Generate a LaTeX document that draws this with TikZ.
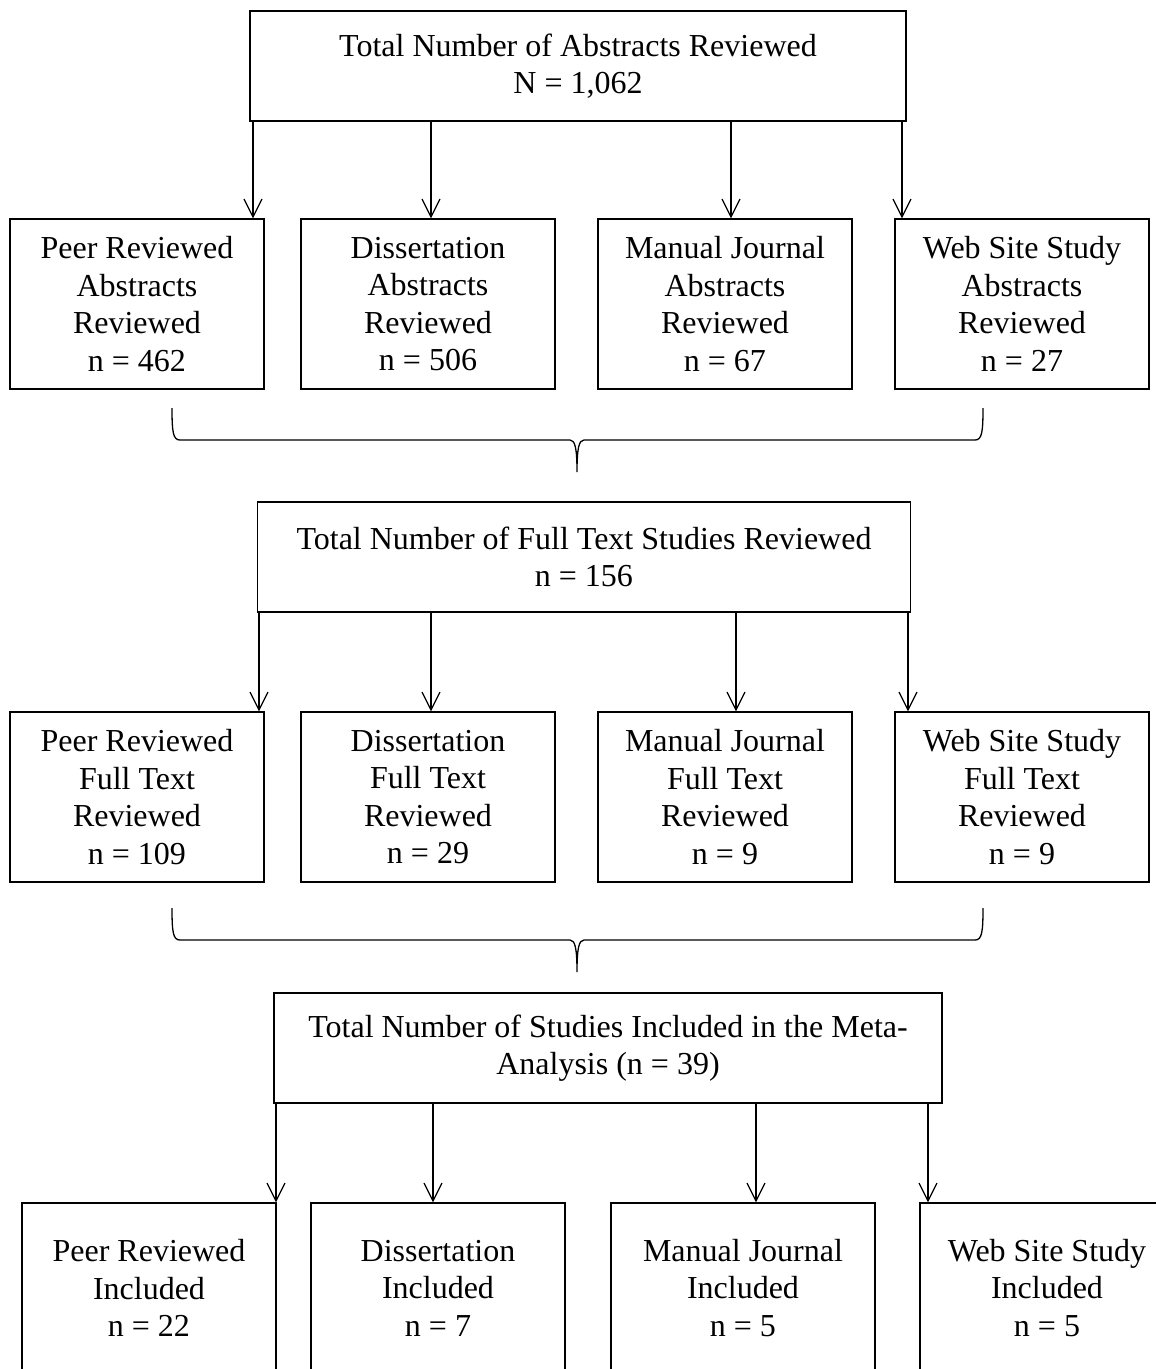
\documentclass[tikz,border=0pt]{standalone}
\usepackage{fontspec}
\setmainfont{Liberation Serif}
\usetikzlibrary{arrows.meta}
\tikzset{
  box/.style={draw, line width=1.3pt, inner sep=0pt, align=center,
    minimum width=254pt, minimum height=170pt,
    font=\fontsize{32}{37.5}\selectfont},
  bigbox/.style={box, minimum height=110pt},
  arr/.style={line width=1.2pt, -{Straight Barb[length=18pt,width=18pt,line width=1.2pt]}},
  brace/.style={line width=1.3pt}
}
\begin{document}
\begin{tikzpicture}[x=1pt,y=-1pt]
\clip (0,0) rectangle (1156,1369);
\fill[white] (0,0) rectangle (1156,1369);
% level 1
\node[bigbox, minimum width=656pt] (T1) at (578,66) {Total Number of Abstracts Reviewed\\N = 1,062};
\node[box] (a1) at (137,304) {Peer Reviewed\\Abstracts\\Reviewed\\n = 462};
\node[box] (a2) at (428,304) {Dissertation\\Abstracts\\Reviewed\\n = 506};
\node[box] (a3) at (725,304) {Manual Journal\\Abstracts\\Reviewed\\n = 67};
\node[box] (a4) at (1022,304) {Web Site Study\\Abstracts\\Reviewed\\n = 27};
\coordinate (x11) at (253,0); \coordinate (x12) at (431,0);
\coordinate (x13) at (731,0); \coordinate (x14) at (902,0);
\draw[arr] (T1.south -| x11) -- (a1.north -| x11);
\draw[arr] (T1.south -| x12) -- (a2.north -| x12);
\draw[arr] (T1.south -| x13) -- (a3.north -| x13);
\draw[arr] (T1.south -| x14) -- (a4.north -| x14);
% brace 1
\draw[brace] (172,408) .. controls (172,432) and (173,440) .. (180,440) -- (570,440)
  .. controls (575,440) and (577,448) .. (577,472)
  .. controls (577,448) and (579,440) .. (584,440) -- (975,440)
  .. controls (982,440) and (983,432) .. (983,408);
% level 2
\node[bigbox, minimum width=653pt] (T2) at (584,557) {Total Number of Full Text Studies Reviewed\\n = 156};
\node[box] (b1) at (137,797) {Peer Reviewed\\Full Text\\Reviewed\\n = 109};
\node[box] (b2) at (428,797) {Dissertation\\Full Text\\Reviewed\\n = 29};
\node[box] (b3) at (725,797) {Manual Journal\\Full Text\\Reviewed\\n = 9};
\node[box] (b4) at (1022,797) {Web Site Study\\Full Text\\Reviewed\\n = 9};
\coordinate (x21) at (259,0); \coordinate (x22) at (431,0);
\coordinate (x23) at (736,0); \coordinate (x24) at (908,0);
\draw[arr] (T2.south -| x21) -- (b1.north -| x21);
\draw[arr] (T2.south -| x22) -- (b2.north -| x22);
\draw[arr] (T2.south -| x23) -- (b3.north -| x23);
\draw[arr] (T2.south -| x24) -- (b4.north -| x24);
% brace 2
\draw[brace] (172,908) .. controls (172,932) and (173,940) .. (180,940) -- (570,940)
  .. controls (575,940) and (577,948) .. (577,972)
  .. controls (577,948) and (579,940) .. (584,940) -- (975,940)
  .. controls (982,940) and (983,932) .. (983,908);
% level 3
\node[bigbox, minimum width=668pt] (T3) at (608,1048) {Total Number of Studies Included in the Meta-\\Analysis (n = 39)};
\node[box] (c1) at (149,1288) {Peer Reviewed\\Included\\n = 22};
\node[box] (c2) at (438,1288) {Dissertation\\Included\\n = 7};
\node[box, minimum width=264pt] (c3) at (743,1288) {Manual Journal\\Included\\n = 5};
\node[box] (c4) at (1047,1288) {Web Site Study\\Included\\n = 5};
\coordinate (x31) at (276,0); \coordinate (x32) at (433,0);
\coordinate (x33) at (756,0); \coordinate (x34) at (928,0);
\draw[arr] (T3.south -| x31) -- (c1.north -| x31);
\draw[arr] (T3.south -| x32) -- (c2.north -| x32);
\draw[arr] (T3.south -| x33) -- (c3.north -| x33);
\draw[arr] (T3.south -| x34) -- (c4.north -| x34);
\end{tikzpicture}
\end{document}
